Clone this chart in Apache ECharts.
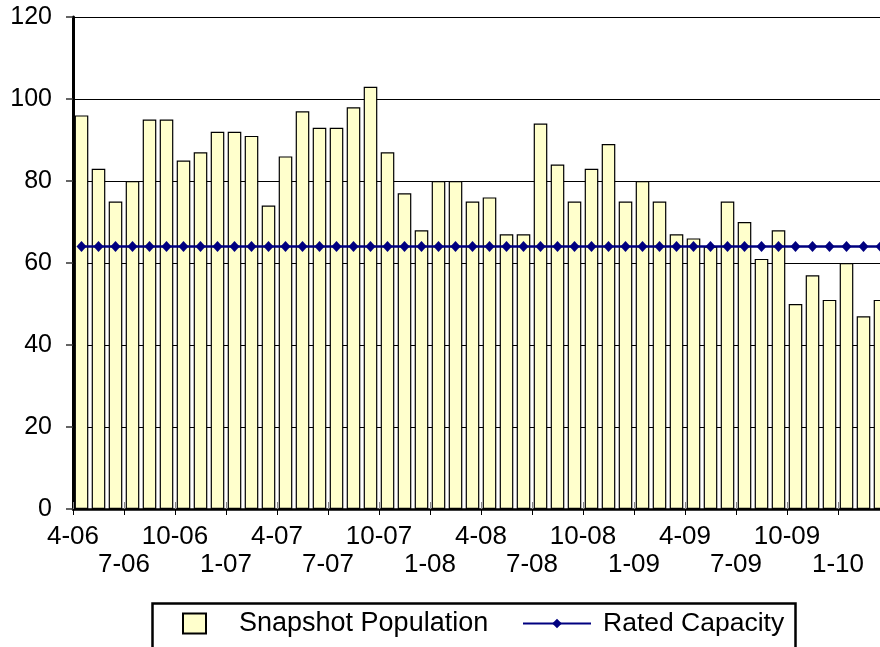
<!DOCTYPE html>
<html>
<head>
<meta charset="utf-8">
<script src="https://cdn.jsdelivr.net/npm/echarts@6/dist/echarts.min.js"></script>
<style>
html,body{margin:0;padding:0;background:#fff;}
#chart{width:880px;height:647px;}
</style>
</head>
<body>
<div id="chart"></div>
<script>
const categories = ['4-06','5-06','6-06','7-06','8-06','9-06','10-06','11-06','12-06',
  '1-07','2-07','3-07','4-07','5-07','6-07','7-07','8-07','9-07','10-07','11-07','12-07',
  '1-08','2-08','3-08','4-08','5-08','6-08','7-08','8-08','9-08','10-08','11-08','12-08',
  '1-09','2-09','3-09','4-09','5-09','6-09','7-09','8-09','9-09','10-09','11-09','12-09',
  '1-10','2-10','3-10'];
const population = [96,83,75,80,95,95,85,87,92,92,91,74,86,97,93,93,98,103,87,77,68,80,80,75,
  76,67,67,94,84,75,83,89,75,80,75,67,66,64,75,70,61,68,50,57,51,60,47,51];
const capacity = [64,64,64,64,64,64,64,64,64,64,64,64,64,64,64,64,64,64,64,64,64,64,64,64,
  64,64,64,64,64,64,64,64,64,64,64,64,64,64,64,64,64,64,64,64,64,64,64,64];
const tickLabels = ['4-06','7-06','10-06','1-07','4-07','7-07','10-07','1-08','4-08','7-08',
  '10-08','1-09','4-09','7-09','10-09','1-10'];
const yTicks = [0,20,40,60,80,100,120];

const FONT = 'Arial, "Liberation Sans", sans-serif';

function labelFor(row) {
  return function (v) {
    const i = Math.round(v / 3);
    const t = tickLabels[i];
    if (t === undefined) return '';
    return (i % 2 === row) ? t : '';
  };
}

const chart = echarts.init(document.getElementById('chart'), null, {renderer:'canvas'});
chart.setOption({
  animation: false,
  backgroundColor: '#fff',
  textStyle: {fontFamily: FONT},
  grid: {left: 73, top: 17, width: 816, height: 492, containLabel: false, outerBoundsMode: 'none'},
  xAxis: [
    {type: 'category', data: categories, boundaryGap: true,
     axisLine: {show: false}, axisTick: {show: false}, axisLabel: {show: false}, splitLine: {show: false}},
    {type: 'value', min: 0, max: categories.length, interval: 3, position: 'bottom',
     axisLine: {show: true, lineStyle: {color: '#000', width: 2.5}},
     axisTick: {show: true, inside: false, length: 6, lineStyle: {color: '#000', width: 1}},
     splitLine: {show: false},
     axisLabel: {show: true, showMinLabel: true, hideOverlap: false, margin: 14, fontSize: 26, lineHeight: 28,
       color: '#000', fontFamily: FONT, formatter: labelFor(0)}},
    {type: 'value', min: 0, max: categories.length, interval: 3, position: 'bottom',
     axisLine: {show: false}, splitLine: {show: false},
     axisTick: {show: true, inside: true, length: 7, lineStyle: {color: '#888', width: 1}},
     axisLabel: {show: true, showMinLabel: true, hideOverlap: false, margin: 42, fontSize: 26, lineHeight: 28,
       color: '#000', fontFamily: FONT, formatter: labelFor(1)}}
  ],
  yAxis: {
    type: 'value', min: yTicks[0], max: yTicks[yTicks.length - 1], interval: 20,
    axisLine: {show: true, lineStyle: {color: '#000', width: 3}},
    axisTick: {show: true, length: 7, lineStyle: {color: '#333', width: 1.5}},
    axisLabel: {fontSize: 25, color: '#000', margin: 21, fontFamily: FONT, showMinLabel: true, hideOverlap: false},
    splitLine: {show: true, lineStyle: {color: '#000', width: 1}}
  },
  legend: [
    {data: [{name: 'Snapshot Population', icon: 'rect'}], left: 182, top: 610, padding: 0,
     itemWidth: 23, itemHeight: 20,
     textStyle: {fontSize: 27, color: '#000', fontFamily: FONT, padding: [0, 0, 0, 28]}},
    {data: ['Rated Capacity'], left: 522, top: 610, padding: 0, itemWidth: 68, itemHeight: 12,
     textStyle: {fontSize: 26.5, color: '#000', fontFamily: FONT, padding: [0, 0, 0, 7]}}
  ],
  graphic: [
    {type: 'rect', left: 150, top: 601, shape: {x: 0, y: 0, width: 643, height: 80},
     style: {fill: 'none', stroke: '#000', lineWidth: 2.5}, silent: true}
  ],
  series: [
    {name: 'Snapshot Population', type: 'bar', xAxisIndex: 0, data: population,
     barCategoryGap: '20%',
     itemStyle: {color: '#FFFFCC', borderColor: '#000', borderWidth: 1.2}},
    {name: 'Rated Capacity', type: 'line', xAxisIndex: 0, data: capacity,
     symbol: 'diamond', symbolSize: [10, 11], showAllSymbol: true,
     lineStyle: {color: '#000080', width: 2.5},
     itemStyle: {color: '#000080'}, z: 5}
  ]
});
</script>
</body>
</html>
